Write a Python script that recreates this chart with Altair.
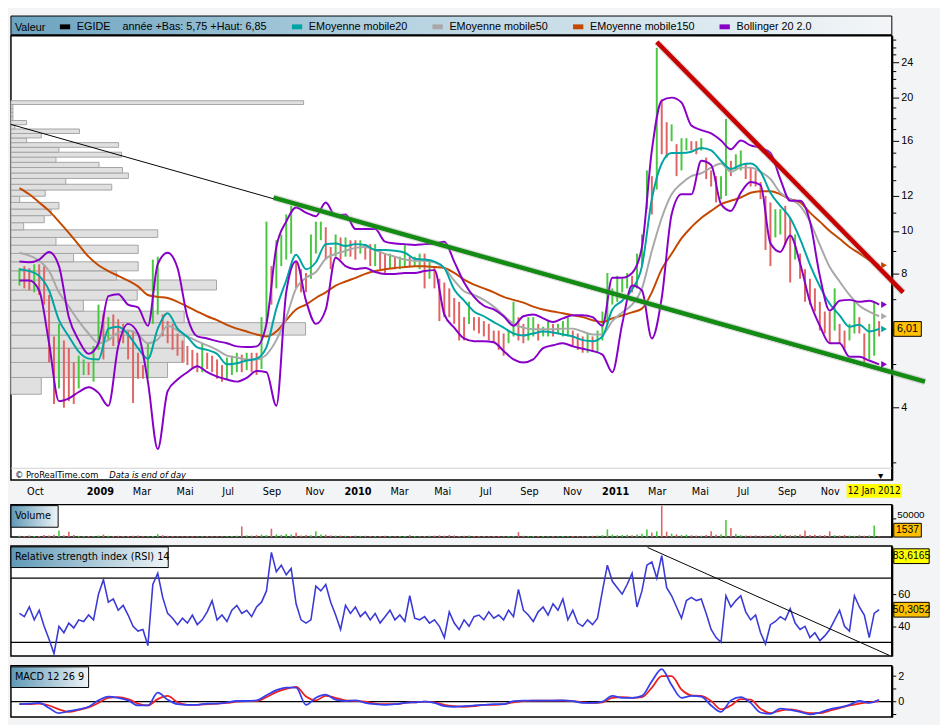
import altair as alt
import pandas as pd

W = 896
H = 452
NARROW = "Liberation Sans Narrow, Arial Narrow, DejaVu Sans Condensed, Liberation Sans"

# ---------------- weekly data (from 2008-09-09, every 7 days) ----------------
price_high = [
    8.24, 8.33, 8.24, 8.41, 8.41, 8.33, 7.17, 5.78, 6.17, 5.66,
    5.44, 5.05, 5.23, 5.13, 5.05, 5.50, 6.82, 6.48, 6.39, 6.48,
    6.32, 6.17, 5.96, 5.96, 5.31, 4.98, 5.58, 8.62, 8.75, 6.48,
    6.26, 6.17, 5.87, 5.66, 5.50, 5.39, 5.31, 5.58, 5.31, 5.23,
    5.13, 4.98, 5.18, 5.23, 5.31, 5.26, 5.31, 5.31, 5.31, 6.39,
    10.5, 8.33, 9.53, 9.82, 10.9, 11.4, 8.54, 8.20, 8.04, 9.82,
    10.5, 10.5, 10.2, 9.20, 9.82, 9.67, 9.67, 9.53, 9.53, 9.53,
    9.34, 9.34, 9.34, 9.06, 8.89, 8.89, 8.75, 8.75, 9.34, 8.75,
    8.75, 8.89, 8.89, 8.62, 8.33, 7.80, 7.65, 7.42, 7.06, 6.92,
    6.39, 6.92, 6.39, 6.39, 6.26, 6.17, 5.96, 5.96, 5.87, 5.96,
    6.92, 6.39, 6.17, 6.39, 6.39, 6.17, 6.08, 6.26, 6.17, 6.17,
    6.26, 6.39, 5.96, 5.87, 5.78, 5.87, 5.78, 5.96, 6.58, 8.04,
    7.42, 7.92, 7.80, 8.04, 7.92, 8.89, 9.82, 13.7, 13.3, 25.9,
    19.8, 17.6, 17.4, 15.7, 16.2, 16.2, 15.95, 15.95, 16.2, 14.65,
    13.7, 13.3, 13.3, 17.9, 14.4, 14.9, 15.2, 14.2, 13.9, 13.7,
    12.9, 12.0, 11.6, 11.2, 11.2, 11.4, 10.7, 9.82, 8.89, 8.20,
    7.80, 7.42, 6.92, 6.58, 6.58, 7.42, 6.17, 5.96, 6.17, 6.92,
    6.39, 5.87, 6.17, 6.92, 6.26,
]
price_low = [
    7.53, 7.42, 7.35, 7.27, 7.17, 6.82, 5.05, 4.07, 4.41, 3.99,
    4.13, 4.07, 4.41, 4.73, 4.73, 4.57, 5.39, 5.13, 5.66, 5.50,
    5.58, 5.58, 5.13, 4.09, 4.64, 4.64, 4.64, 6.17, 6.48, 5.78,
    5.58, 5.39, 5.23, 5.05, 4.98, 4.88, 4.80, 4.80, 4.88, 4.80,
    4.64, 4.57, 4.62, 4.73, 4.80, 4.80, 4.85, 4.80, 4.73, 4.88,
    6.17, 6.82, 7.42, 8.33, 8.62, 8.89, 7.42, 7.27, 7.27, 7.80,
    8.89, 9.53, 8.62, 8.20, 8.75, 8.62, 8.75, 8.75, 8.62, 8.89,
    8.62, 8.33, 8.33, 8.20, 8.04, 8.20, 8.20, 8.20, 8.33, 8.33,
    8.33, 8.20, 7.42, 7.80, 7.42, 6.26, 6.39, 6.39, 6.17, 5.66,
    5.66, 6.17, 5.96, 5.87, 5.78, 5.66, 5.58, 5.39, 5.23, 5.58,
    5.78, 5.66, 5.58, 5.66, 5.78, 5.66, 5.78, 5.78, 5.78, 5.87,
    5.78, 5.78, 5.50, 5.39, 5.31, 5.31, 5.39, 5.31, 5.66, 6.17,
    6.82, 6.92, 7.27, 7.42, 7.27, 7.42, 8.33, 11.2, 10.9, 12.4,
    14.9, 14.65, 15.95, 13.3, 13.7, 15.2, 15.2, 14.9, 15.2, 13.1,
    12.6, 11.6, 11.8, 12.0, 13.3, 13.7, 13.7, 13.1, 12.6, 12.6,
    11.8, 9.06, 8.33, 9.67, 9.82, 9.34, 7.65, 8.62, 7.80, 6.92,
    6.82, 6.58, 5.96, 5.87, 5.58, 5.96, 5.58, 5.39, 5.66, 5.87,
    5.87, 5.05, 5.13, 5.23, 5.78,
]
volume = [
    3500, 2800, 4200, 3000, 2500, 5200, 3800, 6000, 17000, 4500,
    14000, 5500, 3200, 2600, 3000, 2200, 4000, 6500, 3500, 2900,
    3300, 2500, 2800, 3600, 4200, 2400, 2100, 3000, 7500, 5000,
    3100, 2700, 2400, 2000, 2600, 2300, 1900, 2200, 2500, 2100,
    2400, 2000, 2300, 2700, 3200, 28000, 4500, 3800, 5000, 6500,
    5200, 22000, 7000, 6000, 8000, 6500, 11000, 4200, 5500, 4800,
    15000, 7000, 6200, 4500, 3800, 4000, 3500, 3000, 3700, 3200,
    3400, 2800, 3000, 2600, 3300, 2700, 2400, 3100, 2900, 5000,
    2600, 2300, 2800, 3500, 3900, 4400, 3600, 5200, 4000, 3100,
    3500, 3800, 3000, 2700, 2500, 2400, 2900, 2600, 2300, 3000,
    2800, 13000, 3400, 2600, 2700, 3100, 2500, 2400, 2900, 2300,
    2600, 2200, 2500, 2900, 2400, 2800, 3300, 4000, 5200, 20000,
    6500, 4800, 5500, 6000, 4500, 7000, 9000, 20000, 12000, 15000,
    82000, 14000, 9000, 7000, 5500, 6500, 4800, 4000, 3600, 5200,
    15000, 6000, 7500, 45000, 24000, 8000, 5000, 4200, 3800, 4500,
    3600, 3900, 4400, 6000, 7200, 5500, 4800, 5300, 6800, 17000,
    5400, 6200, 4500, 5000, 15000, 4800, 4200, 5600, 3900, 3500,
    4800, 3600, 4400, 30000, 1537,
]
rsi = [
    48, 46, 52, 44, 50, 40, 32, 23, 40, 36,
    42, 39, 44, 43, 47, 44, 60, 69, 55, 57,
    50, 53, 47, 40, 37, 38, 28, 66, 73, 58,
    48, 45, 41, 45, 42, 47, 41, 44, 49, 56,
    44, 47, 43, 50, 53, 48, 50, 46, 52, 55,
    62, 86, 74, 78, 72, 76, 54, 44, 42, 44,
    65, 62, 66, 55, 47, 38, 53, 48, 52, 46,
    49, 44, 48, 42, 46, 50, 44, 47, 43, 59,
    45, 44, 46, 42, 44, 40, 33, 49, 42, 38,
    44, 40, 46, 47, 44, 49, 45, 47, 44, 50,
    46, 63, 50, 47, 43, 49, 52, 47, 54, 50,
    57, 44, 50, 42, 40, 44, 41, 45, 62, 78,
    68, 64, 60, 66, 73, 52, 62, 78, 80, 70,
    84, 64, 59, 52, 45, 56, 58, 56, 57, 48,
    38, 33, 30, 59, 52, 56, 59, 49, 44, 47,
    36, 29, 41, 43, 46, 44, 51, 42, 38, 40,
    33, 36, 31, 34, 38, 44, 50, 40, 37, 59,
    52, 47, 33, 48, 50.3,
]

# ---------------- fortnightly data (from 2008-09-09, every 14 days) ----------------
ema20 = [
    8.2, 8.12, 7.92, 7.34, 6.29, 5.78, 5.34, 5.15, 5.13, 6.02,
    6.08, 5.84, 5.44, 5.15, 6.02, 6.52, 6.02, 5.76, 5.46, 5.39,
    5.28, 5.0, 5.03, 5.1, 5.15, 5.47, 6.68, 7.73, 8.84, 8.2,
    8.5, 9.34, 9.37, 9.25, 9.34, 9.3, 9.06, 9.06, 9.02, 8.93,
    8.66, 8.62, 8.53, 8.25, 7.38, 6.96, 6.58, 6.42, 6.23, 6.05,
    5.87, 5.81, 5.87, 5.93, 5.9, 5.84, 5.78, 5.67, 5.64, 5.78,
    6.65, 6.96, 7.38, 8.33, 11.8, 14.2, 15.0, 15.0, 15.1, 15.4,
    15.2, 14.4, 13.8, 14.1, 14.2, 13.6, 12.2, 11.4, 10.7, 9.6,
    8.4, 7.5, 6.85, 6.45, 6.08, 6.14, 5.93, 6.01,
]
ema50 = [
    8.93, 8.8, 8.57, 8.12, 7.27, 6.75, 6.26, 5.87, 5.58, 5.67,
    5.9, 5.96, 5.84, 5.58, 5.69, 6.11, 5.96, 5.78, 5.64, 5.52,
    5.39, 5.23, 5.18, 5.13, 5.13, 5.26, 5.67, 6.38, 7.42, 7.84,
    8.08, 8.66, 8.88, 9.02, 9.16, 9.2, 9.06, 8.88, 8.75, 8.62,
    8.57, 8.57, 8.5, 8.25, 7.73, 7.31, 7.17, 6.99, 6.75, 6.45,
    6.17, 6.05, 6.0, 6.0, 6.0, 6.02, 6.02, 5.93, 5.84, 5.84,
    6.26, 6.55, 6.82, 7.42, 9.02, 10.7, 12.1, 12.8, 13.3, 13.5,
    13.9, 14.2, 13.6, 13.9, 13.9, 13.6, 13.1, 12.2, 11.8, 11.4,
    10.5, 9.3, 8.29, 7.69, 7.17, 6.78, 6.58, 6.42,
]
ema150 = [
    12.5, 12.1, 11.6, 11.1, 10.5, 9.9, 9.3, 8.75, 8.37, 8.12,
    7.92, 7.73, 7.5, 7.17, 7.10, 7.06, 6.92, 6.75, 6.58, 6.42,
    6.29, 6.14, 6.02, 5.93, 5.84, 5.78, 5.93, 6.29, 6.65, 6.82,
    7.06, 7.27, 7.53, 7.69, 7.84, 8.0, 8.12, 8.2, 8.25, 8.29,
    8.33, 8.33, 8.29, 8.25, 8.04, 7.77, 7.57, 7.42, 7.27, 7.10,
    6.99, 6.89, 6.75, 6.65, 6.58, 6.52, 6.45, 6.39, 6.29, 6.23,
    6.35, 6.45, 6.55, 6.68, 7.27, 8.2, 8.88, 9.62, 10.2, 10.7,
    11.1, 11.5, 11.7, 11.9, 12.2, 12.3, 12.3, 12.1, 11.8, 11.6,
    11.0, 10.5, 10.0, 9.6, 9.2, 8.9, 8.6, 8.37,
]
boll_up = [
    8.53, 8.5, 8.62, 8.97, 8.33, 6.39, 5.67, 5.28, 5.58, 7.13,
    7.2, 6.82, 6.72, 6.11, 8.42, 8.93, 8.25, 6.39, 5.78, 5.72,
    5.64, 5.58, 5.49, 5.47, 5.49, 6.17, 9.2, 10.5, 11.3, 11.0,
    10.8, 11.6, 10.8, 10.9, 10.1, 10.1, 10.1, 9.46, 9.37, 9.34,
    9.3, 9.34, 9.37, 9.46, 8.53, 7.65, 7.1, 6.78, 6.65, 6.42,
    6.11, 6.42, 6.48, 6.35, 6.23, 6.35, 6.45, 6.45, 6.39, 6.11,
    7.84, 7.84, 8.04, 9.2, 15.2, 19.7, 20.0, 19.5, 17.3, 16.9,
    16.6, 16.0, 15.3, 16.0, 15.6, 15.4, 15.0, 13.1, 11.7, 11.7,
    10.5, 7.92, 6.61, 6.96, 6.99, 6.92, 6.96, 6.82,
]
boll_low = [
    7.73, 7.73, 7.34, 5.58, 4.13, 4.19, 4.33, 4.44, 4.31, 4.03,
    5.49, 6.17, 5.87, 4.57, 3.22, 4.35, 4.62, 4.8, 4.95, 4.8,
    4.69, 4.62, 4.57, 4.66, 4.83, 4.8, 4.03, 7.27, 8.54, 6.96,
    6.17, 6.65, 8.7, 8.33, 8.2, 8.25, 8.08, 8.0, 8.0, 8.04,
    8.04, 8.12, 8.16, 6.48, 6.05, 5.72, 5.64, 5.64, 5.61, 5.36,
    5.13, 5.05, 5.13, 5.44, 5.52, 5.58, 5.49, 5.42, 5.36, 5.26,
    4.8, 6.17, 7.53, 7.34, 5.72, 7.06, 10.9, 12.1, 12.1, 14.4,
    14.1, 11.5, 11.1, 12.2, 12.9, 12.7, 9.38, 8.97, 9.77, 8.46,
    6.92, 6.11, 5.58, 5.58, 5.2, 5.2, 5.1, 5.0,
]
macd_line = [
    -0.2, -0.15, -0.1, -0.5, -0.9, -0.75, -0.6, -0.4, 0.1, 0.4,
    0.3, 0.1, -0.3, -0.3, 0.7, 0.15, -0.2, -0.25, -0.25, -0.15,
    -0.15, -0.05, 0.05, 0.05, 0.1, 0.5, 0.9, 1.1, 1.1, -0.25,
    0.3, 0.55, 0.15, 0.05, 0.1, -0.1, -0.2, -0.25, -0.2, -0.1,
    -0.05, 0.0, -0.1, -0.35, -0.4, -0.35, -0.3, -0.25, -0.2, -0.2,
    0.05, 0.08, 0.08, 0.08, 0.08, 0.1, 0.05, -0.1, -0.1, 0.0,
    0.45, 0.3, 0.3, 0.45, 1.6, 2.55, 1.3, 0.3, 0.45, 0.4,
    -0.3, -0.8, 0.1, 0.35, -0.1, -0.85, -0.95, -0.55, -0.65, -0.8,
    -1.0, -0.85, -0.6, -0.45, -0.25, 0.05, -0.1, 0.15,
]
macd_signal = [
    -0.2, -0.2, -0.15, -0.3, -0.6, -0.8, -0.65, -0.45, -0.1, 0.3,
    0.35, 0.2, -0.15, -0.3, 0.2, 0.45, -0.05, -0.25, -0.25, -0.2,
    -0.15, -0.1, 0.0, 0.05, 0.05, 0.35, 0.75, 1.0, 1.15, 0.4,
    0.1, 0.45, 0.3, 0.1, 0.05, 0.0, -0.15, -0.2, -0.2, -0.1,
    -0.05, 0.0, -0.05, -0.25, -0.35, -0.4, -0.35, -0.25, -0.25, -0.2,
    -0.05, 0.05, 0.08, 0.08, 0.08, 0.08, 0.05, -0.05, -0.1, -0.05,
    0.3, 0.35, 0.3, 0.35, 1.1, 2.0, 2.0, 0.95, 0.5, 0.45,
    0.05, -0.6, -0.3, 0.2, 0.15, -0.55, -0.9, -0.7, -0.6, -0.75,
    -0.9, -0.9, -0.7, -0.5, -0.3, -0.15, -0.05, 0.05,
]

# ---------------- volume-at-price profile ----------------
profile_edges = [4.28, 4.67, 5.05, 5.44, 5.82, 6.21, 6.59, 6.98, 7.36, 7.75,
                 8.13, 8.52, 8.90, 9.29, 9.67, 10.06, 10.44, 10.83, 11.21, 11.60,
                 11.98, 12.37, 12.75, 13.14, 13.52, 13.91, 14.29, 14.68, 15.06, 15.45,
                 15.83, 16.22, 16.60, 16.99, 17.37, 17.76, 18.14, 18.53, 18.91, 19.30, 19.68]
profile_volume = [31, 160, 177, 177, 301, 177, 74, 129, 210, 108,
                  130, 64, 130, 46, 150, 13, 34, 41, 49, 9,
                  35, 103, 56, 120, 114, 90, 46, 113, 49, 110,
                  16, 31, 70, 4, 16, 2, 2, 2, 2, 299]

# trend lines (two anchor points each)
black_line_dates = ["2008-08-28", "2012-01-24"]
black_line_vals = [17.4, 4.78]
green_line_dates = ["2009-09-04", "2012-03-15"]
green_line_vals = [11.9, 4.57]
red_line_dates = ["2011-03-01", "2012-02-13"]
red_line_vals = [26.7, 7.27]
rsi_trend_dates = ["2011-02-16", "2012-01-25"]
rsi_trend_vals = [89.0, 21.8]
rsi_levels = [30, 70]

legend_egide = "EGIDE\u00a0\u00a0\u00a0\u00a0année +Bas: 5,75 +Haut: 6,85"
series_names = [legend_egide, "EMoyenne mobile20", "EMoyenne mobile50", "EMoyenne mobile150", "Bollinger 20 2.0"]
series_colors = ["#000000", "#00a4a4", "#a8a8a8", "#c44800", "#8800c8"]

# ---------------- frames ----------------
weeks = pd.date_range("2008-09-09", periods=len(price_high), freq="7D")
fort = pd.date_range("2008-09-09", periods=len(ema20), freq="14D")

wk = pd.DataFrame({"date": weeks, "high": price_high, "low": price_low,
                   "vol": volume, "rsi": rsi})
mid = (wk["high"] + wk["low"]) / 2
wk["up"] = (mid.diff().fillna(0) >= 0)

defs = [("EMoyenne mobile150", "ema150", ema150), ("EMoyenne mobile50", "ema50", ema50),
        ("EMoyenne mobile20", "ema20", ema20), ("Bollinger 20 2.0", "bb_up", boll_up),
        ("Bollinger 20 2.0", "bb_low", boll_low)]
lines_df = pd.concat([pd.DataFrame({"date": fort, "value": v, "series": n, "line": k})
                      for n, k, v in defs], ignore_index=True)
last_df = pd.DataFrame({"date": [pd.Timestamp("2012-01-17")] * 5,
                        "value": [v[-1] for _, _, v in defs],
                        "line": [k for _, k, _ in defs]})

md = pd.DataFrame({"date": fort, "macd": macd_line, "signal": macd_signal})

prof = pd.DataFrame({"lo": profile_edges[:-1], "hi": profile_edges[1:],
                     "vol": profile_volume, "zero": 0})


def two_point(dates, vals):
    return pd.DataFrame({"date": pd.to_datetime(dates), "value": vals})


one = pd.DataFrame({"k": [0]})

# ---------------- scales / axes ----------------
xscale = alt.Scale(domain=[alt.DateTime(year=2008, month=8, date=28),
                           alt.DateTime(year=2012, month=1, date=28)])
tick_dates = [alt.DateTime(year=2008, month=10, date=1)]
for yr in (2009, 2010, 2011):
    for m in (1, 3, 5, 7, 9, 11):
        tick_dates.append(alt.DateTime(year=yr, month=m, date=1))

months_fr = "['Jan','Fév','Mar','Avr','Mai','Jun','Jul','Aoû','Sep','Oct','Nov','Déc']"
x_axis_main = alt.Axis(
    values=tick_dates, title=None, grid=False, ticks=False, domain=False,
    labelExpr=f"month(datum.value) == 0 ? timeFormat(datum.value, '%Y') : {months_fr}[month(datum.value)]",
    labelFontWeight={"condition": {"test": "month(datum.value) == 0", "value": "bold"}, "value": "normal"},
    labelFont=NARROW, labelFontSize=11, labelPadding=6, labelOverlap=False, labelFlush=False,
    labelColor="black")
x_main = alt.X("date:T", scale=xscale, axis=x_axis_main)
x_none = alt.X("date:T", scale=xscale, axis=None)

major = "[4,8,10,12,16,20,24]"
yscale = alt.Scale(type="log", domain=[2.74, 27.6])
y_axis_main = alt.Axis(
    orient="right", values=list(range(3, 28)), title=None, grid=False,
    labelExpr=f"indexof({major}, datum.value) >= 0 ? datum.label : ''",
    tickSize={"condition": {"test": f"indexof({major}, datum.value) >= 0", "value": 7}, "value": 4},
    tickColor="black", domainColor="black", domainWidth=2, labelFontSize=11,
    labelPadding=2, labelColor="black")

grad = alt.LinearGradient(gradient="linear", x1=0, x2=1, y1=0, y2=0,
                          stops=[alt.GradientStop(color="#6ba3bf", offset=0),
                                 alt.GradientStop(color="#b7d3e1", offset=0.45),
                                 alt.GradientStop(color="#f3f6f8", offset=1)])
box_grad = alt.LinearGradient(gradient="linear", x1=0, x2=1, y1=0, y2=0,
                              stops=[alt.GradientStop(color="#5f99b6", offset=0),
                                     alt.GradientStop(color="#eef4f7", offset=1)])

# ---------------- main panel ----------------
header = alt.Chart(one).mark_rect(fill=grad, stroke="black", strokeWidth=1, clip=False).encode(
    x=alt.value(0), x2=alt.value(W), y=alt.value(-20), y2=alt.value(-1))

profile = alt.Chart(prof).mark_rect(fill="#e0e0e0", stroke="#a4a4a4", strokeWidth=1).encode(
    x=alt.X("zero:Q", scale=alt.Scale(domain=[0, 900]), axis=None),
    x2="vol:Q",
    y=alt.Y("lo:Q", scale=yscale, axis=y_axis_main),
    y2="hi:Q")

up_bars = alt.Chart(wk).transform_filter("datum.up").mark_rule(color="#48c840", strokeWidth=2).encode(
    x=x_main, y=alt.Y("low:Q", scale=yscale, axis=y_axis_main), y2="high:Q")
down_bars = alt.Chart(wk).transform_filter("!datum.up").mark_rule(color="#e06464", strokeWidth=2).encode(
    x=x_main, y=alt.Y("low:Q", scale=yscale, axis=y_axis_main), y2="high:Q")

lines = alt.Chart(lines_df).mark_line(interpolate="monotone").encode(
    x=x_main,
    y=alt.Y("value:Q", scale=yscale, axis=y_axis_main),
    color=alt.Color("series:N", scale=alt.Scale(domain=series_names, range=series_colors),
                    legend=alt.Legend(orient="none", legendX=4, legendY=-17, direction="horizontal",
                                      title="Valeur", titleOrient="left", titleFontWeight="normal",
                                      titleFontSize=11, titlePadding=12, labelFontSize=11,
                                      labelLimit=400, symbolType="stroke", symbolStrokeWidth=5,
                                      symbolSize=110, columnPadding=14, labelColor="black",
                                      titleColor="black")),
    detail="line:N",
    strokeWidth=alt.StrokeWidth("line:N", scale=alt.Scale(
        domain=["ema150", "ema50", "ema20", "bb_up", "bb_low"], range=[2, 2, 2, 2.6, 2.6]), legend=None))

markers = alt.Chart(last_df).mark_point(shape="triangle-right", filled=True, size=45, opacity=1).encode(
    x=x_main, y=alt.Y("value:Q", scale=yscale, axis=y_axis_main),
    fill=alt.Fill("line:N", scale=alt.Scale(domain=["ema150", "ema50", "ema20", "bb_up", "bb_low"],
                                            range=["#c44800", "#a8a8a8", "#00a4a4", "#8800c8", "#8800c8"]),
                  legend=None))

black_tl = alt.Chart(two_point(black_line_dates, black_line_vals)).mark_line(
    color="black", strokeWidth=1, clip=False).encode(
    x=x_main, y=alt.Y("value:Q", scale=yscale, axis=y_axis_main))
green_shadow = alt.Chart(two_point(green_line_dates, green_line_vals)).mark_line(
    color="#9a9a9a", strokeWidth=7, opacity=0.35, clip=False).encode(
    x=x_main, y=alt.Y("value:Q", scale=yscale, axis=y_axis_main))
green_tl = alt.Chart(two_point(green_line_dates, green_line_vals)).mark_line(
    color="#138c13", strokeWidth=4.5, clip=False).encode(
    x=x_main, y=alt.Y("value:Q", scale=yscale, axis=y_axis_main))
red_shadow = alt.Chart(two_point(red_line_dates, red_line_vals)).mark_line(
    color="#9a9a9a", strokeWidth=7, opacity=0.35, clip=False).encode(
    x=x_main, y=alt.Y("value:Q", scale=yscale, axis=y_axis_main))
red_tl = alt.Chart(two_point(red_line_dates, red_line_vals)).mark_line(
    color="#c80000", strokeWidth=4.5, clip=False).encode(
    x=x_main, y=alt.Y("value:Q", scale=yscale, axis=y_axis_main))

last_price = pd.DataFrame({"value": [6.01], "txt": ["6,01"]})
price_box = alt.Chart(last_price).mark_rect(height=15, fill="#ffc000", stroke="black",
                                            strokeWidth=1, clip=False).encode(
    x=alt.value(W + 2), x2=alt.value(W + 30), y=alt.Y("value:Q", scale=yscale, axis=y_axis_main))
price_txt = alt.Chart(last_price).mark_text(fontSize=11, align="center", baseline="middle",
                                            color="black", clip=False).encode(
    x=alt.value(W + 16), y=alt.Y("value:Q", scale=yscale, axis=y_axis_main), text="txt:N")

sep_rule = alt.Chart(one).mark_rule(color="#d0d0d0", strokeWidth=1).encode(
    x=alt.value(0), x2=alt.value(W), y=alt.value(H - 12))
copy1 = alt.Chart(one).mark_text(text="© ProRealTime.com", align="left", baseline="middle",
                                 fontSize=9.5, font=NARROW, color="black").encode(
    x=alt.value(4), y=alt.value(H - 5))
copy2 = alt.Chart(one).mark_text(text="Data is end of day", align="left", baseline="middle",
                                 fontSize=9.5, font=NARROW, fontStyle="italic", color="black").encode(
    x=alt.value(100), y=alt.value(H - 5))
end_arrow = alt.Chart(pd.DataFrame({"date": [pd.Timestamp("2012-01-12")]})).mark_text(
    text="▼", fontSize=9, color="black", baseline="middle").encode(
    x=x_main, y=alt.value(H - 4))
date_box = alt.Chart(one).mark_rect(fill="#ffff00", clip=False).encode(
    x=alt.value(W - 46), x2=alt.value(W + 10), y=alt.value(H + 4), y2=alt.value(H + 18))
date_txt = alt.Chart(one).mark_text(text="12 Jan 2012", fontSize=10, font=NARROW, color="black",
                                    align="center", baseline="middle", clip=False).encode(
    x=alt.value(W - 18), y=alt.value(H + 11))

temporal = alt.layer(header, up_bars, down_bars, black_tl, lines, green_shadow, green_tl,
                     red_shadow, red_tl, markers, sep_rule, copy1, copy2, end_arrow,
                     price_box, price_txt, date_box, date_txt)
main = alt.layer(profile, temporal).resolve_scale(x="independent").properties(width=W, height=H)

# ---------------- volume panel ----------------
vol_axis = alt.Axis(orient="right", values=[50000], title=None, grid=False, tickSize=4,
                    tickColor="black", domainColor="black", domainWidth=2, labelFontSize=10,
                    labelColor="black", labelPadding=1, labelOffset=-3, format="d")
vscale = alt.Scale(domain=[0, 85000])
vol_up = alt.Chart(wk).transform_filter("datum.up").mark_rule(color="#48c840", strokeWidth=1.6).encode(
    x=x_none, y=alt.Y("vol:Q", scale=vscale, axis=vol_axis), y2=alt.datum(0))
vol_down = alt.Chart(wk).transform_filter("!datum.up").mark_rule(color="#e06464", strokeWidth=1.6).encode(
    x=x_none, y=alt.Y("vol:Q", scale=vscale, axis=vol_axis), y2=alt.datum(0))
vol_box = alt.Chart(one).mark_rect(fill=box_grad, stroke="black", strokeWidth=1).encode(
    x=alt.value(0), x2=alt.value(48), y=alt.value(1), y2=alt.value(23))
vol_title = alt.Chart(one).mark_text(text="Volume", align="left", baseline="middle", fontSize=11,
                                     font=NARROW, color="black").encode(x=alt.value(4), y=alt.value(12))
vol_lbl_box = alt.Chart(one).mark_rect(fill="#ffc000", stroke="black", strokeWidth=1, clip=False).encode(
    x=alt.value(W + 2), x2=alt.value(W + 30), y=alt.value(19), y2=alt.value(33))
vol_lbl = alt.Chart(one).mark_text(text="1537", fontSize=10.5, align="center", baseline="middle",
                                   color="black", clip=False).encode(x=alt.value(W + 16), y=alt.value(26))
volc = alt.layer(vol_up, vol_down, vol_box, vol_title, vol_lbl_box, vol_lbl).properties(width=W, height=33)

# ---------------- RSI panel ----------------
rscale = alt.Scale(domain=[21.5, 90])
rsi_axis = alt.Axis(orient="right", values=[40, 60, 80], title=None, grid=False, tickSize=4,
                    tickColor="black", domainColor="black", domainWidth=2, labelFontSize=11,
                    labelColor="black", labelPadding=2,
                    labelExpr="datum.value == 80 ? '' : datum.label")
rsi_lvl = alt.Chart(pd.DataFrame({"lvl": rsi_levels})).mark_rule(color="black", strokeWidth=1.2).encode(
    y=alt.Y("lvl:Q", scale=rscale, axis=rsi_axis))
rsi_line = alt.Chart(wk).mark_line(color="#3a3ad6", strokeWidth=1.6).encode(
    x=x_none, y=alt.Y("rsi:Q", scale=rscale, axis=rsi_axis))
rsi_tl = alt.Chart(two_point(rsi_trend_dates, rsi_trend_vals)).mark_line(color="black", strokeWidth=1).encode(
    x=x_none, y=alt.Y("value:Q", scale=rscale, axis=rsi_axis))
rsi_box = alt.Chart(one).mark_rect(fill=box_grad, stroke="black", strokeWidth=1).encode(
    x=alt.value(0), x2=alt.value(160), y=alt.value(1), y2=alt.value(22))
rsi_title = alt.Chart(one).mark_text(text="Relative strength index (RSI) 14", align="left",
                                     baseline="middle", fontSize=11, font=NARROW, color="black").encode(
    x=alt.value(4), y=alt.value(11))
rsi_marks = pd.DataFrame({"value": [83.6165, 50.3052], "txt": ["83,6165", "50,3052"],
                          "kind": ["max", "last"]})
rsi_lbl_box = alt.Chart(rsi_marks).mark_rect(height=15, stroke="black", strokeWidth=1, clip=False).encode(
    x=alt.value(W + 2), x2=alt.value(W + 38), y=alt.Y("value:Q", scale=rscale, axis=rsi_axis),
    fill=alt.Fill("kind:N", scale=alt.Scale(domain=["max", "last"], range=["#ffff00", "#ffc000"]),
                  legend=None))
rsi_lbl = alt.Chart(rsi_marks).mark_text(fontSize=10.5, align="center", baseline="middle",
                                         color="black", clip=False).encode(
    x=alt.value(W + 20), y=alt.Y("value:Q", scale=rscale, axis=rsi_axis), text="txt:N")
rsic = alt.layer(rsi_lvl, rsi_line, rsi_tl, rsi_box, rsi_title, rsi_lbl_box, rsi_lbl).properties(
    width=W, height=112)

# ---------------- MACD panel ----------------
mscale = alt.Scale(domain=[-1.2, 2.8])
macd_axis = alt.Axis(orient="right", values=[-1, 0, 1, 2], title=None, grid=False, tickSize=4,
                     tickColor="black", domainColor="black", domainWidth=2, labelFontSize=11,
                     labelColor="black", labelPadding=2,
                     labelExpr="datum.value == 0 || datum.value == 2 ? datum.label : ''")
zero_rule = alt.Chart(pd.DataFrame({"z": [0]})).mark_rule(color="black", strokeWidth=1.2).encode(
    y=alt.Y("z:Q", scale=mscale, axis=macd_axis))
sig_line = alt.Chart(md).mark_line(color="#ee2020", strokeWidth=1.8, interpolate="monotone").encode(
    x=x_none, y=alt.Y("signal:Q", scale=mscale, axis=macd_axis))
macd_l = alt.Chart(md).mark_line(color="#3340ee", strokeWidth=1.8, interpolate="monotone").encode(
    x=x_none, y=alt.Y("macd:Q", scale=mscale, axis=macd_axis))
macd_box = alt.Chart(one).mark_rect(fill=box_grad, stroke="black", strokeWidth=1).encode(
    x=alt.value(0), x2=alt.value(79), y=alt.value(1), y2=alt.value(22))
macd_title = alt.Chart(one).mark_text(text="MACD 12 26 9", align="left", baseline="middle",
                                      fontSize=11, font=NARROW, color="black").encode(
    x=alt.value(4), y=alt.value(11))
macdc = alt.layer(zero_rule, sig_line, macd_l, macd_box, macd_title).properties(width=W, height=52)

chart = alt.vconcat(main, volc, rsic, macdc, spacing=5, padding=0, background="#f3f4f6").resolve_scale(
    x="independent", y="independent", color="independent", fill="independent"
).configure(font="Liberation Sans").configure_view(stroke="black", strokeWidth=1.5, fill="white")

chart.save("out.html", embed_options={"renderer": "svg", "actions": False})
